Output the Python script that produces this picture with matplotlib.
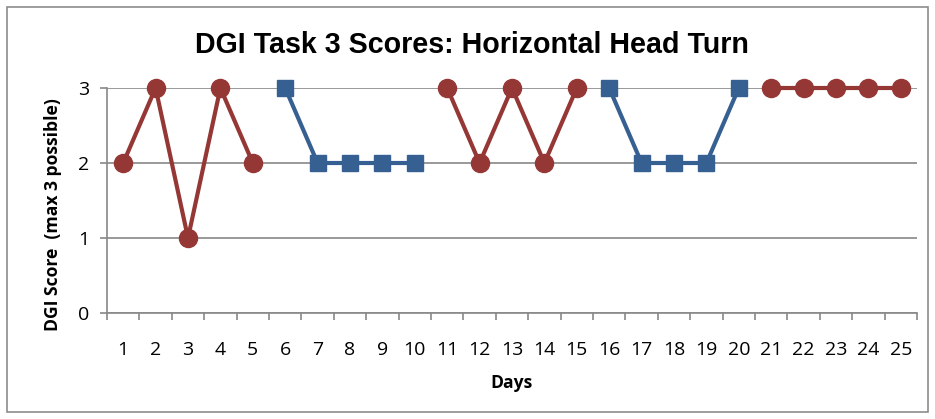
import matplotlib
matplotlib.use("Agg")
from matplotlib import pyplot as plt
import numpy as np

days = list(range(1, 26))
red1_x = [1, 2, 3, 4, 5]
red1_y = [2, 3, 1, 3, 2]
blue1_x = [6, 7, 8, 9, 10]
blue1_y = [3, 2, 2, 2, 2]
red2_x = [11, 12, 13, 14, 15]
red2_y = [3, 2, 3, 2, 3]
blue2_x = [16, 17, 18, 19, 20]
blue2_y = [3, 2, 2, 2, 3]
red3_x = [21, 22, 23, 24, 25]
red3_y = [3, 3, 3, 3, 3]

RED = "#953735"
BLUE = "#376092"
GRID = "#888888"

fig = plt.figure(figsize=(9.35, 4.19), dpi=100)
ax = fig.add_axes([107/935, 1-313/419, (917-107)/935, (313-88)/419])

for xs, ys in [(red1_x, red1_y), (red2_x, red2_y), (red3_x, red3_y)]:
    ax.plot(xs, ys, color=RED, lw=3, marker="o", ms=13, clip_on=False, zorder=3)
for xs, ys in [(blue1_x, blue1_y), (blue2_x, blue2_y)]:
    ax.plot(xs, ys, color=BLUE, lw=3, marker="s", ms=12, clip_on=False, zorder=3)

ax.set_xlim(0.5, 25.5)
ax.set_ylim(0, 3)
ax.set_yticks([0, 1, 2, 3])
ax.yaxis.grid(True, color=GRID, lw=1.2)
ax.set_axisbelow(True)

# category boundary ticks, labels centred between them
ax.set_xticks(np.arange(0.5, 26, 1))
ax.set_xticklabels([])
ax.set_xticks(days, minor=True)
ax.set_xticklabels([str(d) for d in days], minor=True, fontsize=14, family="Open Sans")
ax.tick_params(axis="x", which="major", length=5, color=GRID, width=1.2)
ax.tick_params(axis="x", which="minor", length=0, pad=20)
ax.tick_params(axis="y", length=5, color=GRID, width=1.2, pad=8)
for lab in ax.get_yticklabels():
    lab.set_family("Open Sans")
    lab.set_fontsize(14)

for s in ["top", "right"]:
    ax.spines[s].set_visible(False)
for s in ["left", "bottom"]:
    ax.spines[s].set_color(GRID)
    ax.spines[s].set_linewidth(1.2)

fig.text(0.505, 0.893, "DGI Task 3 Scores: Horizontal Head Turn", ha="center", va="center",
         fontsize=20.6, fontweight="bold", family="Liberation Sans")
fig.text(0.057, 0.487, "DGI Score  (max 3 possible)", rotation=90, ha="center", va="center",
         fontsize=12.6, fontweight="bold", family="Open Sans")
fig.text(0.547, 0.087, "Days", ha="center", va="center",
         fontsize=12.6, fontweight="bold", family="Open Sans")

border = plt.Rectangle((7/935, 7/419), 921/935, 405/419, transform=fig.transFigure,
                       fill=False, edgecolor="#8c8c8c", lw=1.2)
fig.patches.append(border)

fig.savefig("out.png", dpi=100)
